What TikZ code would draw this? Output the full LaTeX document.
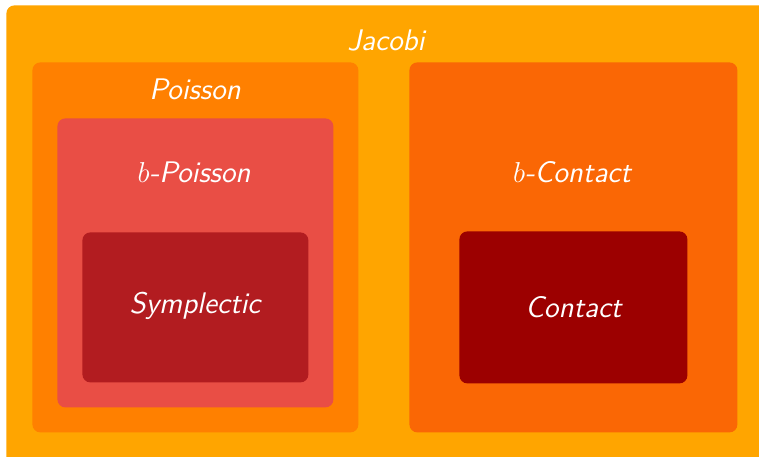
\documentclass[tikz,border=0pt]{standalone}
\usepackage{tikz}
\usetikzlibrary{positioning}
\definecolor{jacobicol}{RGB}{255,165,0}
\definecolor{poissoncol}{RGB}{255,128,0}
\definecolor{bpoissoncol}{RGB}{233,78,69}
\definecolor{symplcol}{RGB}{178,28,32}
\definecolor{bcontactcol}{RGB}{250,103,5}
\definecolor{contactcol}{RGB}{156,0,0}
\tikzstyle{region} = [rectangle, rounded corners=4pt,
inner sep=0pt,
anchor=north west]
\tikzstyle{regname} = [text=white, font=\fontsize{14.9}{18}\selectfont\sffamily\itshape]

\begin{document}
\begin{tikzpicture}[x=0.5pt, y=-0.5pt]
            \useasboundingbox (0,0) rectangle (759,456);

            \node (jacobi)   [region, fill=jacobicol, minimum width=385pt, minimum height=233pt] at (6,5) {};
            \node (poisson)  [region, fill=poissoncol, minimum width=163pt, minimum height=185pt] at (32,62) {};
            \node (bpoisson) [region, fill=bpoissoncol, minimum width=138pt, minimum height=144.5pt] at (57,118) {};
            \node (sympl)    [region, fill=symplcol, minimum width=113pt, minimum height=75pt] at (82,232) {};
            \node (bcontact) [region, fill=bcontactcol, minimum width=164pt, minimum height=185pt] at (409,62) {};
            \node (contact)  [region, fill=contactcol, minimum width=114pt, minimum height=76pt] at (459,231) {};

            % names of the structures
            \node (jacobiname)   [regname] at (386,40)  {Jacobi};
            \node (poissonname)  [regname] at (195,89)  {Poisson};
            \node (bpoissonname) [regname] at (194,172) {$b$-Poisson};
            \node (symplname)    [regname] at (195,306) {Symplectic};
            \node (bcontactname) [regname] at (572,172) {$b$-Contact};
            \node (contactname)  [regname] at (contact.center)  {Contact};
        \end{tikzpicture}
\end{document}
